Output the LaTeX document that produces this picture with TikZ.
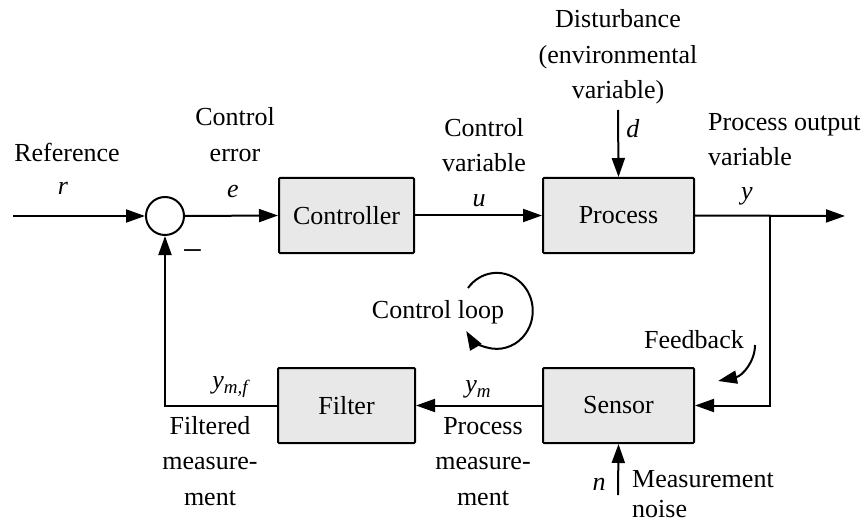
\documentclass[tikz,border=0pt]{standalone}
\usepackage{fontspec}
\setmainfont{Liberation Serif}
\usetikzlibrary{arrows.meta}
\newcommand{\subm}[1]{\raisebox{-5pt}{\fontsize{19}{19}\selectfont\textit{#1}}}
\begin{document}
\begin{tikzpicture}[x=1pt,y=-1pt,
  lbl/.style={inner sep=0pt,anchor=base,align=center,font=\fontsize{26}{35.5}\selectfont},
  lbll/.style={lbl,anchor=base west,align=left},
  blk/.style={draw,line width=2pt,fill=black!9,rounded corners=1pt,inner sep=0pt,font=\fontsize{26}{30}\selectfont},
  sumc/.style={draw,circle,line width=2pt,minimum size=38pt,inner sep=0pt},
  wire/.style={line width=2pt},
  arr/.style={wire,-{Triangle[length=19pt,width=13pt]}}]
\useasboundingbox (0,0) rectangle (866,521);
% blocks
\node[sumc] (sum) at (165,216) {};
\node[blk,minimum width=135pt,minimum height=75pt] (ctrl) at (346.5,215.5) {Controller};
\node[blk,minimum width=151pt,minimum height=75pt] (proc) at (618.5,215.5) {Process};
\node[blk,minimum width=151pt,minimum height=75pt] (sens) at (618.5,405.5) {Sensor};
\node[blk,minimum width=137pt,minimum height=75pt] (filt) at (346.5,405.5) {Filter};
% coordinates
\coordinate (refin) at (13,216);
\coordinate (outend) at (845,216);
\coordinate (branch) at (770,216);
\coordinate (distin) at (618,110);
\coordinate (noisein) at (618,495);
% connectors
\draw[arr] (refin) -- (sum.west);
\draw[arr] (sum.east) -- (ctrl.west);
\draw[arr] (ctrl.east) -- (proc.west);
\draw[arr] (proc.east) -- (outend);
\draw[arr] (distin) -- (proc.north);
\draw[arr] (branch) |- (sens.east);
\draw[arr] (noisein) -- (sens.south);
\draw[arr] (sens.west) -- (filt.east);
\draw[arr] (filt.west) -| (sum.south);
% labels
\node[lbl] (lref) at (67,162) {Reference};
\node[lbl] (lr) at (63,195) {\textit{r}};
\node[lbl] (lerr) at (235,161.5) {Control\\error};
\node[lbl] (le) at (233,197) {\textit{e}};
\node[lbl] (lminus) at (192.5,262) {\fontsize{36}{36}\selectfont −};
\node[lbl] (lcv) at (484,172) {Control\\variable};
\node[lbl] (lu) at (479,207) {\textit{u}};
\node[lbl] (ldist) at (618,99) {Disturbance\\(environmental\\variable)};
\node[lbl] (ld) at (633,138) {\textit{d}};
\node[lbll] (lpo) at (708,166) {Process output\\variable};
\node[lbl] (ly) at (747,200) {\textit{y}};
\node[lbl] (lloop) at (438,318) {Control loop};
\node[lbl] (lfb) at (694,348) {Feedback};
\node[lbl] (lym) at (478,392) {\textit{y}\subm{m}};
\node[lbl] (lpm) at (483,505) {Process\\measure-\\ment};
\node[lbl] (lymf) at (231,388) {\textit{y}\subm{m,f}};
\node[lbl] (lfm) at (210,505) {Filtered\\measure-\\ment};
\node[lbl] (ln) at (599,490) {\textit{n}};
\node[lbll,font=\fontsize{26}{30}\selectfont] (lnoise) at (632,517) {Measurement\\noise};
% curved arrows
\draw[arr] (468,288) arc[start angle=217,end angle=508,x radius=36,y radius=38];
\draw[arr] (755,345) .. controls (755,362) and (742,376) .. (718,381);
\end{tikzpicture}
\end{document}
